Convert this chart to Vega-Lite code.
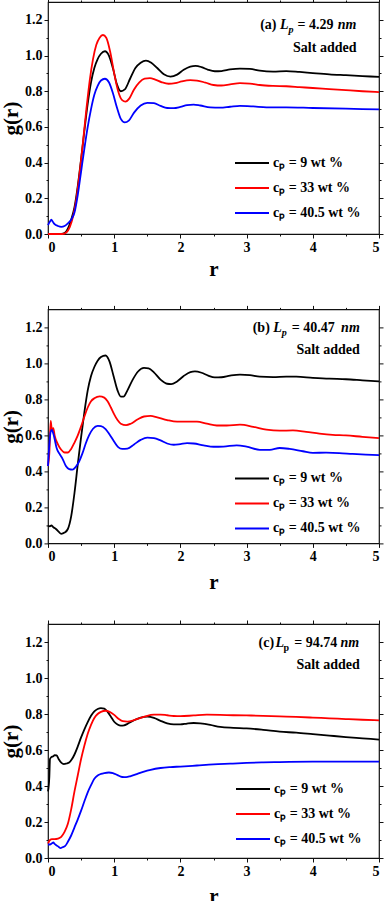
{
  "$schema": "https://vega.github.io/schema/vega-lite/v6.json",
  "padding": {"left": -1, "top": -4, "right": 0, "bottom": 0},
  "background": "white",
  "config": {
    "font": "Liberation Serif",
    "view": {"stroke": "#111", "strokeWidth": 1.2},
    "axis": {
      "grid": false, "domain": false,
      "labelFont": "Liberation Serif", "labelFontSize": 14, "labelFontWeight": "bold", "labelColor": "#000",
      "titleFont": "Liberation Serif", "titleFontSize": 21, "titleFontWeight": "bold", "titleColor": "#000",
      "tickColor": "#111", "tickWidth": 1, "labelPadding": 2
    },
    "legend": {
      "orient": "none", "title": null, "symbolType": "stroke", "symbolSize": 1156, "symbolStrokeWidth": 2,
      "labelFont": "Liberation Serif", "labelFontSize": 14, "labelFontWeight": "bold", "labelColor": "#000",
      "labelOffset": 3, "rowPadding": -12, "padding": 0
    },
    "text": {"font": "Liberation Serif", "fontWeight": "bold", "fontSize": 14, "color": "#000"}
  },
  "datasets": {
    "a": [
      {"s":"9","r":0,"g":0},{"s":"9","r":0.2,"g":0},{"s":"9","r":0.25,"g":0.005},{"s":"9","r":0.3,"g":0.03},{"s":"9","r":0.35,"g":0.08},{"s":"9","r":0.4,"g":0.15},{"s":"9","r":0.45,"g":0.27},{"s":"9","r":0.5,"g":0.42},{"s":"9","r":0.55,"g":0.58},{"s":"9","r":0.6,"g":0.73},{"s":"9","r":0.65,"g":0.85},{"s":"9","r":0.7,"g":0.93},{"s":"9","r":0.75,"g":0.98},{"s":"9","r":0.8,"g":1.01},{"s":"9","r":0.86,"g":1.024},{"s":"9","r":0.92,"g":1.0},{"s":"9","r":0.98,"g":0.93},{"s":"9","r":1.04,"g":0.84},{"s":"9","r":1.1,"g":0.8},{"s":"9","r":1.16,"g":0.81},{"s":"9","r":1.24,"g":0.87},{"s":"9","r":1.32,"g":0.93},{"s":"9","r":1.4,"g":0.96},{"s":"9","r":1.48,"g":0.972},{"s":"9","r":1.56,"g":0.96},{"s":"9","r":1.65,"g":0.93},{"s":"9","r":1.75,"g":0.895},{"s":"9","r":1.85,"g":0.882},{"s":"9","r":1.95,"g":0.893},{"s":"9","r":2.05,"g":0.92},{"s":"9","r":2.15,"g":0.938},{"s":"9","r":2.23,"g":0.942},{"s":"9","r":2.32,"g":0.935},{"s":"9","r":2.42,"g":0.92},{"s":"9","r":2.52,"g":0.912},{"s":"9","r":2.62,"g":0.913},{"s":"9","r":2.75,"g":0.922},{"s":"9","r":2.9,"g":0.927},{"s":"9","r":3.05,"g":0.925},{"s":"9","r":3.2,"g":0.915},{"s":"9","r":3.4,"g":0.91},{"s":"9","r":3.6,"g":0.913},{"s":"9","r":3.8,"g":0.908},{"s":"9","r":4.0,"g":0.902},{"s":"9","r":4.25,"g":0.895},{"s":"9","r":4.5,"g":0.89},{"s":"9","r":4.75,"g":0.885},{"s":"9","r":5.0,"g":0.88},
      {"s":"33","r":0,"g":0},{"s":"33","r":0.22,"g":0},{"s":"33","r":0.28,"g":0.01},{"s":"33","r":0.33,"g":0.04},{"s":"33","r":0.38,"g":0.1},{"s":"33","r":0.43,"g":0.2},{"s":"33","r":0.48,"g":0.35},{"s":"33","r":0.53,"g":0.52},{"s":"33","r":0.58,"g":0.7},{"s":"33","r":0.63,"g":0.86},{"s":"33","r":0.68,"g":0.98},{"s":"33","r":0.73,"g":1.06},{"s":"33","r":0.78,"g":1.1},{"s":"33","r":0.83,"g":1.115},{"s":"33","r":0.88,"g":1.1},{"s":"33","r":0.94,"g":1.02},{"s":"33","r":1.0,"g":0.9},{"s":"33","r":1.06,"g":0.8},{"s":"33","r":1.12,"g":0.75},{"s":"33","r":1.17,"g":0.742},{"s":"33","r":1.23,"g":0.76},{"s":"33","r":1.3,"g":0.81},{"s":"33","r":1.38,"g":0.85},{"s":"33","r":1.46,"g":0.87},{"s":"33","r":1.54,"g":0.873},{"s":"33","r":1.62,"g":0.865},{"s":"33","r":1.72,"g":0.85},{"s":"33","r":1.82,"g":0.842},{"s":"33","r":1.92,"g":0.845},{"s":"33","r":2.02,"g":0.855},{"s":"33","r":2.15,"g":0.862},{"s":"33","r":2.25,"g":0.86},{"s":"33","r":2.38,"g":0.848},{"s":"33","r":2.5,"g":0.835},{"s":"33","r":2.62,"g":0.832},{"s":"33","r":2.75,"g":0.838},{"s":"33","r":2.9,"g":0.845},{"s":"33","r":3.05,"g":0.843},{"s":"33","r":3.2,"g":0.835},{"s":"33","r":3.4,"g":0.83},{"s":"33","r":3.6,"g":0.828},{"s":"33","r":3.8,"g":0.823},{"s":"33","r":4.0,"g":0.818},{"s":"33","r":4.25,"g":0.812},{"s":"33","r":4.5,"g":0.806},{"s":"33","r":4.75,"g":0.8},{"s":"33","r":5.0,"g":0.795},
      {"s":"40.5","r":0,"g":0.05},{"s":"40.5","r":0.03,"g":0.07},{"s":"40.5","r":0.05,"g":0.08},{"s":"40.5","r":0.07,"g":0.07},{"s":"40.5","r":0.1,"g":0.055},{"s":"40.5","r":0.15,"g":0.045},{"s":"40.5","r":0.2,"g":0.04},{"s":"40.5","r":0.25,"g":0.045},{"s":"40.5","r":0.3,"g":0.06},{"s":"40.5","r":0.35,"g":0.08},{"s":"40.5","r":0.4,"g":0.12},{"s":"40.5","r":0.45,"g":0.22},{"s":"40.5","r":0.5,"g":0.35},{"s":"40.5","r":0.55,"g":0.48},{"s":"40.5","r":0.6,"g":0.6},{"s":"40.5","r":0.65,"g":0.7},{"s":"40.5","r":0.7,"g":0.78},{"s":"40.5","r":0.75,"g":0.83},{"s":"40.5","r":0.8,"g":0.86},{"s":"40.5","r":0.86,"g":0.87},{"s":"40.5","r":0.92,"g":0.85},{"s":"40.5","r":0.98,"g":0.79},{"s":"40.5","r":1.04,"g":0.71},{"s":"40.5","r":1.1,"g":0.645},{"s":"40.5","r":1.16,"g":0.625},{"s":"40.5","r":1.22,"g":0.635},{"s":"40.5","r":1.3,"g":0.68},{"s":"40.5","r":1.4,"g":0.72},{"s":"40.5","r":1.5,"g":0.735},{"s":"40.5","r":1.6,"g":0.733},{"s":"40.5","r":1.7,"g":0.718},{"s":"40.5","r":1.8,"g":0.706},{"s":"40.5","r":1.9,"g":0.705},{"s":"40.5","r":2.0,"g":0.712},{"s":"40.5","r":2.1,"g":0.722},{"s":"40.5","r":2.2,"g":0.725},{"s":"40.5","r":2.3,"g":0.72},{"s":"40.5","r":2.45,"g":0.71},{"s":"40.5","r":2.6,"g":0.708},{"s":"40.5","r":2.75,"g":0.713},{"s":"40.5","r":2.9,"g":0.718},{"s":"40.5","r":3.1,"g":0.715},{"s":"40.5","r":3.3,"g":0.71},{"s":"40.5","r":3.6,"g":0.71},{"s":"40.5","r":4.0,"g":0.706},{"s":"40.5","r":4.5,"g":0.702},{"s":"40.5","r":5.0,"g":0.698}
    ],
    "b": [
      {"s":"9","r":0,"g":0.1},{"s":"9","r":0.03,"g":0.095},{"s":"9","r":0.05,"g":0.1},{"s":"9","r":0.08,"g":0.09},{"s":"9","r":0.12,"g":0.08},{"s":"9","r":0.16,"g":0.065},{"s":"9","r":0.2,"g":0.053},{"s":"9","r":0.25,"g":0.06},{"s":"9","r":0.3,"g":0.08},{"s":"9","r":0.35,"g":0.15},{"s":"9","r":0.4,"g":0.28},{"s":"9","r":0.45,"g":0.44},{"s":"9","r":0.5,"g":0.59},{"s":"9","r":0.55,"g":0.73},{"s":"9","r":0.6,"g":0.85},{"s":"9","r":0.65,"g":0.93},{"s":"9","r":0.7,"g":0.98},{"s":"9","r":0.75,"g":1.015},{"s":"9","r":0.8,"g":1.035},{"s":"9","r":0.87,"g":1.044},{"s":"9","r":0.93,"g":1.01},{"s":"9","r":0.99,"g":0.93},{"s":"9","r":1.05,"g":0.85},{"s":"9","r":1.1,"g":0.815},{"s":"9","r":1.14,"g":0.815},{"s":"9","r":1.2,"g":0.85},{"s":"9","r":1.28,"g":0.91},{"s":"9","r":1.36,"g":0.955},{"s":"9","r":1.45,"g":0.975},{"s":"9","r":1.52,"g":0.972},{"s":"9","r":1.6,"g":0.95},{"s":"9","r":1.7,"g":0.91},{"s":"9","r":1.8,"g":0.887},{"s":"9","r":1.86,"g":0.885},{"s":"9","r":1.95,"g":0.9},{"s":"9","r":2.05,"g":0.93},{"s":"9","r":2.15,"g":0.952},{"s":"9","r":2.22,"g":0.956},{"s":"9","r":2.32,"g":0.948},{"s":"9","r":2.42,"g":0.932},{"s":"9","r":2.52,"g":0.922},{"s":"9","r":2.62,"g":0.923},{"s":"9","r":2.75,"g":0.932},{"s":"9","r":2.9,"g":0.938},{"s":"9","r":3.05,"g":0.935},{"s":"9","r":3.2,"g":0.926},{"s":"9","r":3.4,"g":0.924},{"s":"9","r":3.6,"g":0.927},{"s":"9","r":3.75,"g":0.926},{"s":"9","r":4.0,"g":0.92},{"s":"9","r":4.25,"g":0.915},{"s":"9","r":4.5,"g":0.912},{"s":"9","r":4.75,"g":0.906},{"s":"9","r":5.0,"g":0.9},
      {"s":"33","r":0,"g":0.43},{"s":"33","r":0.02,"g":0.5},{"s":"33","r":0.04,"g":0.68},{"s":"33","r":0.06,"g":0.63},{"s":"33","r":0.08,"g":0.64},{"s":"33","r":0.1,"g":0.6},{"s":"33","r":0.15,"g":0.55},{"s":"33","r":0.2,"g":0.52},{"s":"33","r":0.25,"g":0.505},{"s":"33","r":0.3,"g":0.505},{"s":"33","r":0.35,"g":0.525},{"s":"33","r":0.4,"g":0.56},{"s":"33","r":0.45,"g":0.6},{"s":"33","r":0.5,"g":0.65},{"s":"33","r":0.55,"g":0.705},{"s":"33","r":0.6,"g":0.755},{"s":"33","r":0.65,"g":0.79},{"s":"33","r":0.7,"g":0.806},{"s":"33","r":0.78,"g":0.817},{"s":"33","r":0.85,"g":0.81},{"s":"33","r":0.9,"g":0.79},{"s":"33","r":0.95,"g":0.755},{"s":"33","r":1.0,"g":0.717},{"s":"33","r":1.05,"g":0.685},{"s":"33","r":1.1,"g":0.665},{"s":"33","r":1.18,"g":0.657},{"s":"33","r":1.25,"g":0.665},{"s":"33","r":1.35,"g":0.688},{"s":"33","r":1.45,"g":0.705},{"s":"33","r":1.55,"g":0.708},{"s":"33","r":1.65,"g":0.7},{"s":"33","r":1.8,"g":0.685},{"s":"33","r":1.95,"g":0.676},{"s":"33","r":2.1,"g":0.677},{"s":"33","r":2.25,"g":0.676},{"s":"33","r":2.4,"g":0.665},{"s":"33","r":2.55,"g":0.655},{"s":"33","r":2.7,"g":0.655},{"s":"33","r":2.9,"g":0.66},{"s":"33","r":3.1,"g":0.648},{"s":"33","r":3.3,"g":0.632},{"s":"33","r":3.5,"g":0.626},{"s":"33","r":3.7,"g":0.628},{"s":"33","r":3.9,"g":0.62},{"s":"33","r":4.1,"g":0.61},{"s":"33","r":4.3,"g":0.603},{"s":"33","r":4.5,"g":0.6},{"s":"33","r":4.75,"g":0.592},{"s":"33","r":5.0,"g":0.585},
      {"s":"40.5","r":0,"g":0.43},{"s":"40.5","r":0.02,"g":0.55},{"s":"40.5","r":0.04,"g":0.62},{"s":"40.5","r":0.06,"g":0.63},{"s":"40.5","r":0.08,"g":0.61},{"s":"40.5","r":0.1,"g":0.58},{"s":"40.5","r":0.13,"g":0.53},{"s":"40.5","r":0.17,"g":0.5},{"s":"40.5","r":0.22,"g":0.47},{"s":"40.5","r":0.27,"g":0.43},{"s":"40.5","r":0.32,"g":0.413},{"s":"40.5","r":0.37,"g":0.41},{"s":"40.5","r":0.42,"g":0.425},{"s":"40.5","r":0.47,"g":0.455},{"s":"40.5","r":0.52,"g":0.5},{"s":"40.5","r":0.57,"g":0.555},{"s":"40.5","r":0.62,"g":0.6},{"s":"40.5","r":0.68,"g":0.637},{"s":"40.5","r":0.75,"g":0.653},{"s":"40.5","r":0.8,"g":0.652},{"s":"40.5","r":0.87,"g":0.635},{"s":"40.5","r":0.93,"g":0.605},{"s":"40.5","r":1.0,"g":0.565},{"s":"40.5","r":1.06,"g":0.535},{"s":"40.5","r":1.12,"g":0.525},{"s":"40.5","r":1.2,"g":0.527},{"s":"40.5","r":1.3,"g":0.55},{"s":"40.5","r":1.4,"g":0.575},{"s":"40.5","r":1.5,"g":0.588},{"s":"40.5","r":1.6,"g":0.585},{"s":"40.5","r":1.7,"g":0.572},{"s":"40.5","r":1.8,"g":0.555},{"s":"40.5","r":1.9,"g":0.548},{"s":"40.5","r":2.0,"g":0.552},{"s":"40.5","r":2.1,"g":0.557},{"s":"40.5","r":2.2,"g":0.555},{"s":"40.5","r":2.35,"g":0.545},{"s":"40.5","r":2.5,"g":0.537},{"s":"40.5","r":2.65,"g":0.538},{"s":"40.5","r":2.85,"g":0.545},{"s":"40.5","r":3.0,"g":0.538},{"s":"40.5","r":3.2,"g":0.52},{"s":"40.5","r":3.35,"g":0.52},{"s":"40.5","r":3.5,"g":0.53},{"s":"40.5","r":3.65,"g":0.525},{"s":"40.5","r":3.85,"g":0.512},{"s":"40.5","r":4.0,"g":0.503},{"s":"40.5","r":4.2,"g":0.504},{"s":"40.5","r":4.4,"g":0.502},{"s":"40.5","r":4.6,"g":0.497},{"s":"40.5","r":4.8,"g":0.493},{"s":"40.5","r":5.0,"g":0.49}
    ],
    "c": [
      {"s":"9","r":0,"g":0.37},{"s":"9","r":0.02,"g":0.45},{"s":"9","r":0.03,"g":0.55},{"s":"9","r":0.05,"g":0.56},{"s":"9","r":0.08,"g":0.565},{"s":"9","r":0.1,"g":0.572},{"s":"9","r":0.13,"g":0.57},{"s":"9","r":0.16,"g":0.55},{"s":"9","r":0.2,"g":0.53},{"s":"9","r":0.24,"g":0.522},{"s":"9","r":0.28,"g":0.525},{"s":"9","r":0.32,"g":0.53},{"s":"9","r":0.36,"g":0.548},{"s":"9","r":0.4,"g":0.575},{"s":"9","r":0.45,"g":0.62},{"s":"9","r":0.5,"g":0.67},{"s":"9","r":0.55,"g":0.715},{"s":"9","r":0.6,"g":0.755},{"s":"9","r":0.65,"g":0.79},{"s":"9","r":0.7,"g":0.815},{"s":"9","r":0.75,"g":0.828},{"s":"9","r":0.8,"g":0.833},{"s":"9","r":0.85,"g":0.83},{"s":"9","r":0.9,"g":0.812},{"s":"9","r":0.95,"g":0.785},{"s":"9","r":1.0,"g":0.757},{"s":"9","r":1.05,"g":0.742},{"s":"9","r":1.1,"g":0.735},{"s":"9","r":1.15,"g":0.737},{"s":"9","r":1.2,"g":0.745},{"s":"9","r":1.3,"g":0.765},{"s":"9","r":1.4,"g":0.78},{"s":"9","r":1.5,"g":0.785},{"s":"9","r":1.6,"g":0.778},{"s":"9","r":1.7,"g":0.762},{"s":"9","r":1.8,"g":0.748},{"s":"9","r":1.9,"g":0.742},{"s":"9","r":2.0,"g":0.742},{"s":"9","r":2.1,"g":0.747},{"s":"9","r":2.2,"g":0.75},{"s":"9","r":2.3,"g":0.748},{"s":"9","r":2.45,"g":0.74},{"s":"9","r":2.6,"g":0.728},{"s":"9","r":2.8,"g":0.723},{"s":"9","r":3.0,"g":0.72},{"s":"9","r":3.25,"g":0.712},{"s":"9","r":3.5,"g":0.702},{"s":"9","r":3.75,"g":0.696},{"s":"9","r":4.0,"g":0.688},{"s":"9","r":4.25,"g":0.68},{"s":"9","r":4.5,"g":0.672},{"s":"9","r":4.75,"g":0.665},{"s":"9","r":5.0,"g":0.658},
      {"s":"33","r":0,"g":0.08},{"s":"33","r":0.03,"g":0.1},{"s":"33","r":0.06,"g":0.105},{"s":"33","r":0.1,"g":0.105},{"s":"33","r":0.15,"g":0.108},{"s":"33","r":0.2,"g":0.118},{"s":"33","r":0.25,"g":0.145},{"s":"33","r":0.3,"g":0.19},{"s":"33","r":0.35,"g":0.27},{"s":"33","r":0.4,"g":0.37},{"s":"33","r":0.45,"g":0.46},{"s":"33","r":0.5,"g":0.55},{"s":"33","r":0.55,"g":0.625},{"s":"33","r":0.6,"g":0.69},{"s":"33","r":0.65,"g":0.74},{"s":"33","r":0.7,"g":0.778},{"s":"33","r":0.75,"g":0.8},{"s":"33","r":0.8,"g":0.812},{"s":"33","r":0.87,"g":0.818},{"s":"33","r":0.93,"g":0.812},{"s":"33","r":1.0,"g":0.795},{"s":"33","r":1.07,"g":0.772},{"s":"33","r":1.13,"g":0.76},{"s":"33","r":1.2,"g":0.758},{"s":"33","r":1.3,"g":0.766},{"s":"33","r":1.4,"g":0.778},{"s":"33","r":1.5,"g":0.79},{"s":"33","r":1.6,"g":0.796},{"s":"33","r":1.7,"g":0.797},{"s":"33","r":1.8,"g":0.793},{"s":"33","r":1.9,"g":0.789},{"s":"33","r":2.0,"g":0.788},{"s":"33","r":2.2,"g":0.792},{"s":"33","r":2.4,"g":0.796},{"s":"33","r":2.6,"g":0.795},{"s":"33","r":2.8,"g":0.793},{"s":"33","r":3.0,"g":0.792},{"s":"33","r":3.25,"g":0.79},{"s":"33","r":3.5,"g":0.787},{"s":"33","r":3.75,"g":0.784},{"s":"33","r":4.0,"g":0.78},{"s":"33","r":4.25,"g":0.776},{"s":"33","r":4.5,"g":0.772},{"s":"33","r":4.75,"g":0.768},{"s":"33","r":5.0,"g":0.765},
      {"s":"40.5","r":0,"g":0.075},{"s":"40.5","r":0.03,"g":0.075},{"s":"40.5","r":0.06,"g":0.082},{"s":"40.5","r":0.08,"g":0.086},{"s":"40.5","r":0.1,"g":0.078},{"s":"40.5","r":0.13,"g":0.07},{"s":"40.5","r":0.16,"g":0.062},{"s":"40.5","r":0.19,"g":0.055},{"s":"40.5","r":0.22,"g":0.06},{"s":"40.5","r":0.26,"g":0.067},{"s":"40.5","r":0.3,"g":0.09},{"s":"40.5","r":0.35,"g":0.125},{"s":"40.5","r":0.4,"g":0.17},{"s":"40.5","r":0.45,"g":0.215},{"s":"40.5","r":0.5,"g":0.263},{"s":"40.5","r":0.55,"g":0.315},{"s":"40.5","r":0.6,"g":0.365},{"s":"40.5","r":0.65,"g":0.405},{"s":"40.5","r":0.7,"g":0.44},{"s":"40.5","r":0.75,"g":0.458},{"s":"40.5","r":0.8,"g":0.467},{"s":"40.5","r":0.85,"g":0.472},{"s":"40.5","r":0.92,"g":0.475},{"s":"40.5","r":0.98,"g":0.472},{"s":"40.5","r":1.05,"g":0.46},{"s":"40.5","r":1.12,"g":0.45},{"s":"40.5","r":1.18,"g":0.449},{"s":"40.5","r":1.25,"g":0.455},{"s":"40.5","r":1.35,"g":0.467},{"s":"40.5","r":1.45,"g":0.48},{"s":"40.5","r":1.55,"g":0.49},{"s":"40.5","r":1.7,"g":0.5},{"s":"40.5","r":1.85,"g":0.505},{"s":"40.5","r":2.0,"g":0.508},{"s":"40.5","r":2.25,"g":0.514},{"s":"40.5","r":2.5,"g":0.52},{"s":"40.5","r":2.75,"g":0.524},{"s":"40.5","r":3.0,"g":0.528},{"s":"40.5","r":3.25,"g":0.531},{"s":"40.5","r":3.5,"g":0.533},{"s":"40.5","r":4.0,"g":0.535},{"s":"40.5","r":4.5,"g":0.535},{"s":"40.5","r":5.0,"g":0.535}
    ]
  },
  "spacing": 75.4,
  "bounds": "flush",
  "resolve": {"scale": {"color": "independent"}, "legend": {"color": "independent"}},
  "vconcat": [
    {
      "width": 331, "height": 232,
      "resolve": {"axis": {"x": "independent", "y": "independent"}},
      "layer": [
        {
          "data": {"name": "a"},
          "mark": {"type": "line", "strokeWidth": 1.8, "interpolate": "monotone"},
          "encoding": {
            "x": {"field": "r", "type": "quantitative", "scale": {"domain": [0, 5], "nice": false},
              "axis": {"orient": "bottom", "title": "r", "titlePadding": 4, "values": [0,0.5,1,1.5,2,2.5,3,3.5,4,4.5,5],
                "labelExpr": "datum.value % 1 == 0 ? '' + datum.value : ''",
                "tickSize": {"condition": {"test": "datum.value % 1 == 0", "value": 4}, "value": 2}}},
            "y": {"field": "g", "type": "quantitative", "scale": {"domain": [0, 1.3], "nice": false},
              "axis": {"orient": "left", "title": "g(r)", "titlePadding": 3, "values": [0,0.1,0.2,0.3,0.4,0.5,0.6,0.7,0.8,0.9,1.0,1.1,1.2],
                "labelExpr": "round(datum.value*10) % 2 == 0 ? format(datum.value, '.1f') : ''",
                "tickSize": {"condition": {"test": "round(datum.value*10) % 2 == 0", "value": 4}, "value": 2}}},
            "color": {"field": "s", "type": "nominal", "sort": ["9","33","40.5"],
              "scale": {"domain": ["9","33","40.5"], "range": ["#000000","#ff0000","#0000ff"]},
              "legend": {"legendX": 186, "legendY": 143, "labelExpr": "'cₚ = ' + datum.label + ' wt %'"}}
          }
        },
        {
          "data": {"values": [{}]},
          "mark": {"type": "text", "align": "right", "baseline": "alphabetic"},
          "encoding": {
            "x": {"datum": 4.66, "type": "quantitative",
              "axis": {"orient": "top", "title": null, "labels": false, "values": [0,0.5,1,1.5,2,2.5,3,3.5,4,4.5,5],
                "tickSize": {"condition": {"test": "datum.value % 1 == 0", "value": 4}, "value": 2}}},
            "y": {"datum": 1.022, "type": "quantitative",
              "axis": {"orient": "right", "title": null, "labels": false, "values": [0,0.1,0.2,0.3,0.4,0.5,0.6,0.7,0.8,0.9,1.0,1.1,1.2],
                "tickSize": {"condition": {"test": "round(datum.value*10) % 2 == 0", "value": 4}, "value": 2}}},
            "text": {"value": "Salt added"}
          }
        },
        {"data": {"values": [{}]}, "mark": {"type": "text", "align": "right", "baseline": "alphabetic", "fontStyle": "italic"},
          "encoding": {"x": {"datum": 4.66, "type": "quantitative", "axis": null}, "y": {"datum": 1.15, "type": "quantitative", "axis": null}, "text": {"value": "nm"}}},
        {"data": {"values": [{}]}, "mark": {"type": "text", "align": "right", "baseline": "alphabetic", "dx": -23},
          "encoding": {"x": {"datum": 4.66, "type": "quantitative", "axis": null}, "y": {"datum": 1.15, "type": "quantitative", "axis": null}, "text": {"value": "= 4.29"}}},
        {"data": {"values": [{}]}, "mark": {"type": "text", "align": "right", "baseline": "alphabetic", "fontStyle": "italic", "fontSize": 10, "dx": -63, "dy": 4},
          "encoding": {"x": {"datum": 4.66, "type": "quantitative", "axis": null}, "y": {"datum": 1.15, "type": "quantitative", "axis": null}, "text": {"value": "p"}}},
        {"data": {"values": [{}]}, "mark": {"type": "text", "align": "right", "baseline": "alphabetic", "fontStyle": "italic", "dx": -68},
          "encoding": {"x": {"datum": 4.66, "type": "quantitative", "axis": null}, "y": {"datum": 1.15, "type": "quantitative", "axis": null}, "text": {"value": "L"}}},
        {"data": {"values": [{}]}, "mark": {"type": "text", "align": "right", "baseline": "alphabetic", "dx": -80},
          "encoding": {"x": {"datum": 4.66, "type": "quantitative", "axis": null}, "y": {"datum": 1.15, "type": "quantitative", "axis": null}, "text": {"value": "(a)"}}}
      ]
    },
    {
      "spacing": 80.6,
      "bounds": "flush",
      "resolve": {"scale": {"color": "independent"}, "legend": {"color": "independent"}},
      "vconcat": [
        {
          "width": 331, "height": 234,
          "resolve": {"axis": {"x": "independent", "y": "independent"}},
          "layer": [
            {
              "data": {"name": "b"},
              "mark": {"type": "line", "strokeWidth": 1.8, "interpolate": "monotone"},
              "encoding": {
                "x": {"field": "r", "type": "quantitative", "scale": {"domain": [0, 5], "nice": false},
                  "axis": {"orient": "bottom", "title": "r", "titlePadding": 8, "values": [0,0.5,1,1.5,2,2.5,3,3.5,4,4.5,5],
                    "labelExpr": "datum.value % 1 == 0 ? '' + datum.value : ''",
                    "tickSize": {"condition": {"test": "datum.value % 1 == 0", "value": 4}, "value": 2}}},
                "y": {"field": "g", "type": "quantitative", "scale": {"domain": [0, 1.3], "nice": false},
                  "axis": {"orient": "left", "title": "g(r)", "titlePadding": 3, "values": [0,0.1,0.2,0.3,0.4,0.5,0.6,0.7,0.8,0.9,1.0,1.1,1.2],
                    "labelExpr": "round(datum.value*10) % 2 == 0 ? format(datum.value, '.1f') : ''",
                    "tickSize": {"condition": {"test": "round(datum.value*10) % 2 == 0", "value": 4}, "value": 2}}},
                "color": {"field": "s", "type": "nominal", "sort": ["9","33","40.5"],
                  "scale": {"domain": ["9","33","40.5"], "range": ["#000000","#ff0000","#0000ff"]},
                  "legend": {"legendX": 186, "legendY": 151, "labelExpr": "'cₚ = ' + datum.label + ' wt %'"}}
              }
            },
            {
              "data": {"values": [{}]},
              "mark": {"type": "text", "align": "right", "baseline": "alphabetic"},
              "encoding": {
                "x": {"datum": 4.71, "type": "quantitative",
                  "axis": {"orient": "top", "title": null, "labels": false, "values": [0,0.5,1,1.5,2,2.5,3,3.5,4,4.5,5],
                    "tickSize": {"condition": {"test": "datum.value % 1 == 0", "value": 4}, "value": 2}}},
                "y": {"datum": 1.052, "type": "quantitative",
                  "axis": {"orient": "right", "title": null, "labels": false, "values": [0,0.1,0.2,0.3,0.4,0.5,0.6,0.7,0.8,0.9,1.0,1.1,1.2],
                    "tickSize": {"condition": {"test": "round(datum.value*10) % 2 == 0", "value": 4}, "value": 2}}},
                "text": {"value": "Salt added"}
              }
            },
            {"data": {"values": [{}]}, "mark": {"type": "text", "align": "right", "baseline": "alphabetic", "fontStyle": "italic"},
              "encoding": {"x": {"datum": 4.71, "type": "quantitative", "axis": null}, "y": {"datum": 1.172, "type": "quantitative", "axis": null}, "text": {"value": "nm"}}},
            {"data": {"values": [{}]}, "mark": {"type": "text", "align": "right", "baseline": "alphabetic", "dx": -25},
              "encoding": {"x": {"datum": 4.71, "type": "quantitative", "axis": null}, "y": {"datum": 1.172, "type": "quantitative", "axis": null}, "text": {"value": "= 40.47"}}},
            {"data": {"values": [{}]}, "mark": {"type": "text", "align": "right", "baseline": "alphabetic", "fontStyle": "italic", "fontSize": 10, "dx": -73, "dy": 4},
              "encoding": {"x": {"datum": 4.71, "type": "quantitative", "axis": null}, "y": {"datum": 1.172, "type": "quantitative", "axis": null}, "text": {"value": "p"}}},
            {"data": {"values": [{}]}, "mark": {"type": "text", "align": "right", "baseline": "alphabetic", "fontStyle": "italic", "dx": -78},
              "encoding": {"x": {"datum": 4.71, "type": "quantitative", "axis": null}, "y": {"datum": 1.172, "type": "quantitative", "axis": null}, "text": {"value": "L"}}},
            {"data": {"values": [{}]}, "mark": {"type": "text", "align": "right", "baseline": "alphabetic", "dx": -90},
              "encoding": {"x": {"datum": 4.71, "type": "quantitative", "axis": null}, "y": {"datum": 1.172, "type": "quantitative", "axis": null}, "text": {"value": "(b)"}}}
          ]
        },
        {
          "width": 331, "height": 234,
          "resolve": {"axis": {"x": "independent", "y": "independent"}},
          "layer": [
            {
              "data": {"name": "c"},
              "mark": {"type": "line", "strokeWidth": 1.8, "interpolate": "monotone"},
              "encoding": {
                "x": {"field": "r", "type": "quantitative", "scale": {"domain": [0, 5], "nice": false},
                  "axis": {"orient": "bottom", "title": "r", "titlePadding": 7, "values": [0,0.5,1,1.5,2,2.5,3,3.5,4,4.5,5],
                    "labelExpr": "datum.value % 1 == 0 ? '' + datum.value : ''",
                    "tickSize": {"condition": {"test": "datum.value % 1 == 0", "value": 4}, "value": 2}}},
                "y": {"field": "g", "type": "quantitative", "scale": {"domain": [0, 1.3], "nice": false},
                  "axis": {"orient": "left", "title": "g(r)", "titlePadding": 3, "values": [0,0.1,0.2,0.3,0.4,0.5,0.6,0.7,0.8,0.9,1.0,1.1,1.2],
                    "labelExpr": "round(datum.value*10) % 2 == 0 ? format(datum.value, '.1f') : ''",
                    "tickSize": {"condition": {"test": "round(datum.value*10) % 2 == 0", "value": 4}, "value": 2}}},
                "color": {"field": "s", "type": "nominal", "sort": ["9","33","40.5"],
                  "scale": {"domain": ["9","33","40.5"], "range": ["#000000","#ff0000","#0000ff"]},
                  "legend": {"legendX": 187, "legendY": 147, "labelExpr": "'cₚ = ' + datum.label + ' wt %'"}}
              }
            },
            {
              "data": {"values": [{}]},
              "mark": {"type": "text", "align": "right", "baseline": "alphabetic"},
              "encoding": {
                "x": {"datum": 4.71, "type": "quantitative",
                  "axis": {"orient": "top", "title": null, "labels": false, "values": [0,0.5,1,1.5,2,2.5,3,3.5,4,4.5,5],
                    "tickSize": {"condition": {"test": "datum.value % 1 == 0", "value": 4}, "value": 2}}},
                "y": {"datum": 1.05, "type": "quantitative",
                  "axis": {"orient": "right", "title": null, "labels": false, "values": [0,0.1,0.2,0.3,0.4,0.5,0.6,0.7,0.8,0.9,1.0,1.1,1.2],
                    "tickSize": {"condition": {"test": "round(datum.value*10) % 2 == 0", "value": 4}, "value": 2}}},
                "text": {"value": "Salt  added"}
              }
            },
            {"data": {"values": [{}]}, "mark": {"type": "text", "align": "right", "baseline": "alphabetic", "fontStyle": "italic"},
              "encoding": {"x": {"datum": 4.70, "type": "quantitative", "axis": null}, "y": {"datum": 1.17, "type": "quantitative", "axis": null}, "text": {"value": "nm"}}},
            {"data": {"values": [{}]}, "mark": {"type": "text", "align": "right", "baseline": "alphabetic", "dx": -22},
              "encoding": {"x": {"datum": 4.70, "type": "quantitative", "axis": null}, "y": {"datum": 1.17, "type": "quantitative", "axis": null}, "text": {"value": "= 94.74"}}},
            {"data": {"values": [{}]}, "mark": {"type": "text", "align": "right", "baseline": "alphabetic", "fontSize": 10, "dx": -70, "dy": 4},
              "encoding": {"x": {"datum": 4.70, "type": "quantitative", "axis": null}, "y": {"datum": 1.17, "type": "quantitative", "axis": null}, "text": {"value": "p"}}},
            {"data": {"values": [{}]}, "mark": {"type": "text", "align": "right", "baseline": "alphabetic", "fontStyle": "italic", "dx": -75},
              "encoding": {"x": {"datum": 4.70, "type": "quantitative", "axis": null}, "y": {"datum": 1.17, "type": "quantitative", "axis": null}, "text": {"value": "L"}}},
            {"data": {"values": [{}]}, "mark": {"type": "text", "align": "right", "baseline": "alphabetic", "dx": -85},
              "encoding": {"x": {"datum": 4.70, "type": "quantitative", "axis": null}, "y": {"datum": 1.17, "type": "quantitative", "axis": null}, "text": {"value": "(c)"}}}
          ]
        }
      ]
    }
  ]
}
